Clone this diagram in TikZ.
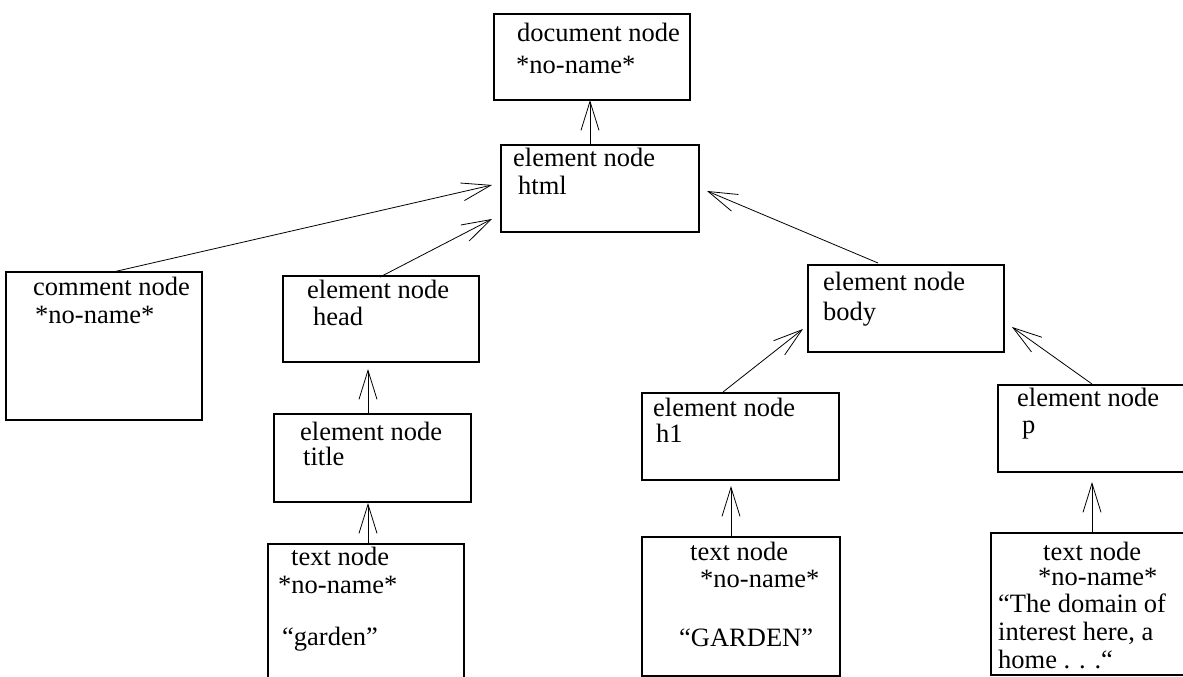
\documentclass[tikz,border=0pt]{standalone}
\usepackage{fontspec}
\setmainfont{Liberation Serif}
\usetikzlibrary{arrows.meta,calc}
\begin{document}
\begin{tikzpicture}[x=1pt,y=-1pt,
  box/.style={draw,line width=1.1pt,inner sep=0pt,outer sep=0pt,anchor=north west},
  lbl/.style={anchor=base west,inner sep=0pt,font=\fontsize{26.5}{30}\selectfont},
  link/.style={line width=0.8pt,-{Straight Barb[length=29pt,width=18pt,line width=0.8pt]}}]
\useasboundingbox (0,0) rectangle (1183,677);
\clip (0,0) rectangle (1183,677);
% boxes
\node[box,minimum width=196pt,minimum height=86pt] (doc) at (494,14) {};
\node[box,minimum width=198pt,minimum height=87pt] (html) at (501,145) {};
\node[box,minimum width=196pt,minimum height=148pt] (comment) at (6,272) {};
\node[box,minimum width=196pt,minimum height=86pt] (head) at (283,276) {};
\node[box,minimum width=197pt,minimum height=88pt] (title) at (274,414) {};
\node[box,minimum width=196pt,minimum height=140pt] (gtext) at (268,544) {};
\node[box,minimum width=196pt,minimum height=87pt] (body) at (808,265) {};
\node[box,minimum width=197pt,minimum height=87pt] (h1) at (642,393) {};
\node[box,minimum width=197pt,minimum height=87pt] (p) at (998,385) {};
\node[box,minimum width=198pt,minimum height=139pt] (Gtext) at (642,537) {};
\node[box,minimum width=199pt,minimum height=142pt] (dtext) at (991,533) {};
% texts
\node[lbl] (doc1) at (517,42) {document node};
\node[lbl] (doc2) at (516,74) {*no-name*};
\node[lbl] (html1) at (513,166) {element node};
\node[lbl] (html2) at (518,194) {html};
\node[lbl] (com1) at (33,295) {comment node};
\node[lbl] (com2) at (35,323) {*no-name*};
\node[lbl] (head1) at (307,298) {element node};
\node[lbl] (head2) at (313,325) {head};
\node[lbl] (title1) at (300,440) {element node};
\node[lbl] (title2) at (303,465) {title};
\node[lbl] (gt1) at (291,565) {text node};
\node[lbl] (gt2) at (278,593) {*no-name*};
\node[lbl] (gt3) at (282,645) {“garden”};
\node[lbl] (body1) at (823,290) {element node};
\node[lbl] (body2) at (823,320) {body};
\node[lbl] (hone1) at (653,416) {element node};
\node[lbl] (hone2) at (656,442) {h1};
\node[lbl] (p1) at (1017,406) {element node};
\node[lbl] (p2) at (1022,433) {p};
\node[lbl] (Gt1) at (690,560) {text node};
\node[lbl] (Gt2) at (700,587) {*no-name*};
\node[lbl] (Gt3) at (679,646) {“GARDEN”};
\node[lbl] (dt1) at (1043,560) {text node};
\node[lbl] (dt2) at (1038,585) {*no-name*};
\node[lbl] (dt3) at (998,612) {“The domain of};
\node[lbl] (dt4) at (998,640) {interest here, a};
\node[lbl] (dt5) at (998,668) {home . . .“};
% connectors
\draw[link] ($(html.north west)+(89,0)$) -- ($(doc.south west)+(96,0)$);
\draw[link] ($(comment.north west)+(107,0)$) -- ($(html.north west)+(-9,40)$);
\draw[link] ($(head.north west)+(97,1)$) -- ($(html.north west)+(-9,74)$);
\draw[link] ($(body.north west)+(70,-2)$) -- ($(html.north east)+(8,46)$);
\draw[link] ($(title.north west)+(94,0)$) -- ($(head.south west)+(85,7)$);
\draw[link] ($(gtext.north west)+(100,0)$) -- ($(title.south west)+(94,1)$);
\draw[link] ($(h1.north west)+(81,-1)$) -- ($(body.south west)+(-5,-23)$);
\draw[link] ($(p.north west)+(94,-1)$) -- ($(body.south east)+(8,-25)$);
\draw[link] ($(Gtext.north west)+(89,0)$) -- ($(h1.south west)+(89,6)$);
\draw[link] ($(dtext.north west)+(101,0)$) -- ($(p.south west)+(94,10)$);
\end{tikzpicture}
\end{document}
